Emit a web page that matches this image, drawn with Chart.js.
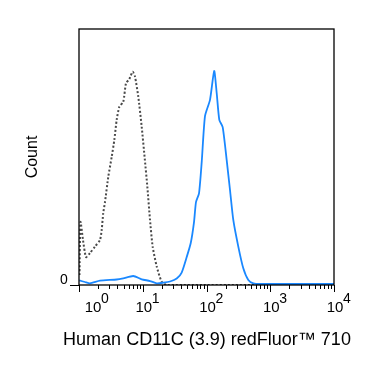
<!DOCTYPE html>
<html>
<head>
<meta charset="utf-8">
<script src="https://cdn.jsdelivr.net/npm/chart.js@4.4.1/dist/chart.umd.min.js"></script>
<style>
  html, body { margin: 0; padding: 0; background: #fff; }
  #wrap { width: 375px; height: 366px; position: relative; }
</style>
</head>
<body>
<div id="wrap"><canvas id="chart"></canvas></div>
<script>
// isotype control (dotted) and CD11C stained (blue)
const isoX = [1.018, 1.056, 1.155, 1.288, 1.488, 1.782, 2.135, 2.27, 2.40, 2.56, 2.88, 3.26, 3.58, 3.90, 4.29, 4.95, 5.46, 6.15, 6.95, 7.56, 8.51, 9.63, 10.8, 11.8, 13.0, 14.3, 16.6, 19.8, 23.8, 10000];
const isoY = [3.9, 24.6, 17.6, 10.9, 12.5, 15.0, 17.6, 21.5, 28.1, 32.5, 42.3, 50.1, 56.6, 64.5, 69.6, 71.6, 78.8, 80.4, 83.3, 81.4, 73.6, 61.8, 48.8, 38.4, 25.4, 15.0, 7.1, 1.3, 0, 0];

const cdX = [1.011, 1.242, 1.488, 2.135, 3.90, 4.95, 7.11, 9.63, 13.0, 16.55, 21.0, 26.8, 34.1, 40.8, 48.9, 56.5, 63.7, 68.4, 76.3, 84.1, 94.7, 113.5, 132, 144.5, 158.8, 179.4, 207.4, 233.7, 263.2, 315.4, 377.8, 452.5, 542.5, 690.8, 10000];
const cdY = [1.76, 1.17, 0.66, 1.68, 2.15, 2.62, 3.52, 2.23, 1.56, 0.66, 0.9, 1.37, 2.54, 4.88, 10.9, 16.3, 24.6, 32.4, 35.8, 48.0, 66.0, 72.3, 83.6, 75.0, 64.5, 61.7, 48.8, 37.1, 25.4, 15.0, 6.5, 1.95, 0.66, 0.4, 0.4];

const decades = [1, 10, 100, 1000, 10000];
const decadeExp = ['0', '1', '2', '3', '4'];
const xTitle = 'Human CD11C (3.9) redFluor™ 710';
const yTitle = 'Count';

const toPoints = (xs, ys) => xs.map((x, i) => ({ x, y: ys[i] }));

const axesPlugin = {
  id: 'flowAxes',
  afterDraw(chart) {
    const ctx = chart.ctx;
    const xs = chart.scales.x;
    const ys = chart.scales.y;
    const a = chart.chartArea;
    ctx.save();
    ctx.strokeStyle = '#000';
    ctx.lineWidth = 1.3;
    ctx.strokeRect(a.left, a.top, a.right - a.left, a.bottom - a.top);

    // x ticks
    ctx.lineWidth = 1;
    decades.forEach((d, i) => {
      const px = Math.round(xs.getPixelForValue(d)) + 0.5;
      ctx.beginPath();
      ctx.moveTo(px, a.bottom);
      ctx.lineTo(px, a.bottom + 7);
      ctx.stroke();
      if (i < decades.length - 1) {
        for (let m = 2; m <= 9; m++) {
          const mx = Math.round(xs.getPixelForValue(d * m)) + 0.5;
          ctx.beginPath();
          ctx.moveTo(mx, a.bottom);
          ctx.lineTo(mx, a.bottom + 4);
          ctx.stroke();
        }
      }
    });
    // y zero tick
    const y0 = Math.round(ys.getPixelForValue(0)) + 0.5;
    ctx.beginPath();
    ctx.moveTo(a.left - 9, y0);
    ctx.lineTo(a.left, y0);
    ctx.stroke();

    ctx.fillStyle = '#000';
    ctx.textBaseline = 'alphabetic';
    // x tick labels 10^n
    decades.forEach((d, i) => {
      let cx = xs.getPixelForValue(d) + 1;
      if (i === 0) cx += 13;
      ctx.font = '15px "Liberation Sans", Arial, sans-serif';
      ctx.textAlign = 'center';
      ctx.fillText('10', cx, 312);
      ctx.font = '14px "Liberation Sans", Arial, sans-serif';
      ctx.textAlign = 'left';
      ctx.fillText(decadeExp[i], cx + 8, 303);
    });
    // y zero label
    ctx.font = '14px "Liberation Sans", Arial, sans-serif';
    ctx.textAlign = 'center';
    ctx.fillText('0', 64, 284);

    // titles
    ctx.font = '18px "Liberation Sans", Arial, sans-serif';
    ctx.textAlign = 'center';
    ctx.fillText(xTitle, 207, 345);
    ctx.save();
    ctx.translate(37, 157);
    ctx.rotate(-Math.PI / 2);
    ctx.font = '16px "Liberation Sans", Arial, sans-serif';
    ctx.fillText(yTitle, 0, 0);
    ctx.restore();
    ctx.restore();
  }
};

new Chart(document.getElementById('chart'), {
  type: 'line',
  data: {
    datasets: [
      {
        data: toPoints(cdX, cdY),
        borderColor: '#1a88ff',
        borderWidth: 1.8,
        pointRadius: 0,
        tension: 0.2,
        fill: false,
      },
      {
        data: toPoints(isoX, isoY),
        borderColor: '#4a4a4a',
        borderWidth: 2,
        borderDash: [2, 2],
        pointRadius: 0,
        tension: 0.2,
        fill: false,
      },
    ],
  },
  options: {
    responsive: true,
    maintainAspectRatio: false,
    animation: false,
    layout: { padding: { left: 79, right: 41, top: 29, bottom: 81 } },
    scales: {
      x: { type: 'logarithmic', min: 1, max: 10000, display: false },
      y: { type: 'linear', min: 0, max: 100, display: false },
    },
    plugins: {
      legend: { display: false },
      tooltip: { enabled: false },
    },
  },
  plugins: [axesPlugin],
});
</script>
</body>
</html>
